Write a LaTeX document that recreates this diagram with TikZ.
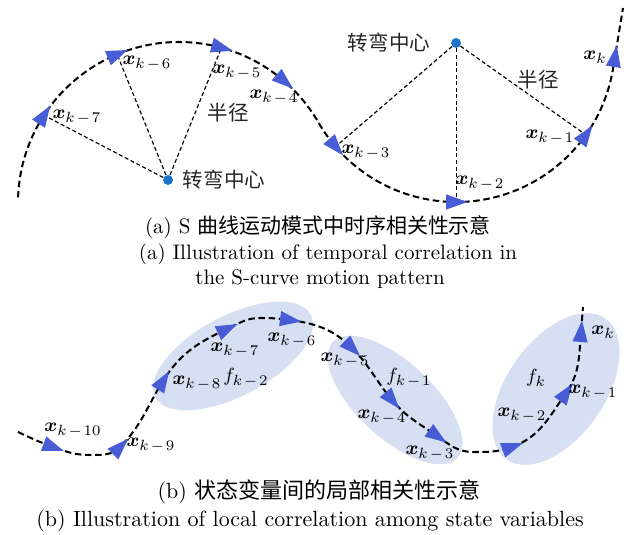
\documentclass[tikz,border=0pt]{standalone}
\usepackage{fontspec}
\usepackage{amsmath,amssymb}
\usepackage{bm}
\newfontfamily\cjk{Noto Sans CJK SC}
\usetikzlibrary{calc}
\definecolor{tipblue}{RGB}{72,92,214}
\definecolor{dotblue}{RGB}{30,115,200}
\definecolor{zoneblue}{RGB}{214,224,242}
\newcommand{\xk}[1]{\bm{x}_{k\mkern2mu-\mkern2mu#1}}
\tikzset{
  traj/.style={line width=0.95pt, dash pattern=on 3.1pt off 1.7pt},
  radline/.style={line width=0.55pt, dash pattern=on 1.9pt off 1.2pt},
  centre/.style={circle, fill=dotblue, inner sep=0pt, minimum size=4.7pt},
  lab/.style={font=\fontsize{9.5}{11}\selectfont, inner sep=0pt},
  cnlab/.style={font=\cjk\fontsize{9.7}{11}\selectfont, text=black!85, inner sep=0pt},
  captext/.style={font=\fontsize{9.9}{12}\selectfont, inner sep=0pt, anchor=base},
  bigcaptext/.style={font=\fontsize{10.4}{12}\selectfont, inner sep=0pt, anchor=base},
  zone/.style={fill=zoneblue},
  pics/tip/.style={code={\fill[tipblue] (5.4pt,0) -- (-4.7pt,3.6pt) -- (-4.7pt,-3.6pt) -- cycle;}},
}

\begin{document}
\begin{tikzpicture}[x=0.0166cm, y=0.0166cm]
    \useasboundingbox (0,0) rectangle (628,-535);

    % (a) turning centres
    \coordinate (c1) at (179,-203);
    \coordinate (c2) at (456.1,-43);
    \node[centre] (o1) at (168,-180) {};
    \node[centre] (o2) at (c2) {};
    \node[cnlab] (t1) at (224,-180) {转弯中心};
    \node[cnlab] (t2) at (389,-43) {转弯中心};
    \node[cnlab] (r1) at (228,-113) {半径};
    \node[cnlab] (r2) at (538,-80) {半径};

    % (a) states on the S curve
    \coordinate (a7) at ($(c1)+(147:161)$);
    \coordinate (a6) at ($(c1)+(112.6:161)$);
    \coordinate (a5) at ($(c1)+(74.7:161)$);
    \coordinate (a4) at ($(c1)+(49.2:161)$);
    \coordinate (a3) at ($(c2)+(220.7:159)$);
    \coordinate (a2) at ($(c2)+(270:159)$);
    \coordinate (a1) at ($(c2)+(324.7:159)$);
    \coordinate (a0) at (614.9,-57);
    \coordinate (aend) at (623,-8);

    % radii
    \draw[radline] (o1) -- (a7);
    \draw[radline] (o1) -- (a6);
    \draw[radline] (o1) -- (a5);
    \draw[radline] (o2) -- (a3);
    \draw[radline] (o2) -- (a2);
    \draw[radline] (o2) -- (a1);

    % S curve: two tangent turns
    \draw[traj] ($(c1)+(178:161)$) arc[start angle=178, end angle=30, radius=161]
        arc[start angle=210, end angle=350, radius=159] -- (aend);

    \pic[rotate=57] at (a7) {tip};
    \pic[rotate=22.6] at (a6) {tip};
    \pic[rotate=-15.3] at (a5) {tip};
    \pic[rotate=-40.8] at (a4) {tip};
    \pic[rotate=-49.3] at (a3) {tip};
    \pic[rotate=0] at (a2) {tip};
    \pic[rotate=54.7] at (a1) {tip};
    \pic[rotate=80.7] at (a0) {tip};

    \node[lab] (la7) at (77,-117) {$\xk{7}$};
    \node[lab] (la6) at (147,-63) {$\xk{6}$};
    \node[lab] (la5) at (237,-72) {$\xk{5}$};
    \node[lab] (la4) at (274,-97) {$\xk{4}$};
    \node[lab] (la3) at (366,-152) {$\xk{3}$};
    \node[lab] (la2) at (480,-183) {$\xk{2}$};
    \node[lab] (la1) at (550,-137) {$\xk{1}$};
    \node[lab] (la0) at (595,-57) {$\bm{x}_{k}$};

    \node[captext] (ca1) at (318,-234) {(a) S {\cjk 曲线运动模式中时序相关性示意}};
    \node[captext] (ca2) at (328,-260) {(a) Illustration of temporal correlation in};
    \node[captext] (ca3) at (320,-285) {the S-curve motion pattern};

    % (b) local regions
    \fill[zone, rotate around={28:(233,-356)}] (233,-356) ellipse[x radius=88, y radius=40];
    \fill[zone, rotate around={-43:(395,-400)}] (395,-400) ellipse[x radius=85, y radius=38];
    \fill[zone, rotate around={55:(556,-389)}] (556,-389) ellipse[x radius=86, y radius=49];

    % (b) states
    \coordinate (s) at (18,-432);
    \coordinate (b10) at (53,-447);
    \coordinate (m1) at (90,-455);
    \coordinate (b9) at (120,-447);
    \coordinate (b8) at (163,-381);
    \coordinate (b7) at (227,-329);
    \coordinate (m2) at (260,-318);
    \coordinate (b6) at (290,-320);
    \coordinate (b5) at (352,-348);
    \coordinate (b4) at (392,-400);
    \coordinate (b3) at (437,-436);
    \coordinate (m3) at (473,-452);
    \coordinate (b2) at (512,-447);
    \coordinate (b1) at (566,-393);
    \coordinate (b0) at (581,-332);
    \coordinate (e) at (583,-307);

    \draw[traj] (s) to[out=-25,in=160] (b10) to[out=-20,in=180] (m1)
        to[out=0,in=225] (b9) to[out=45,in=238] (b8) to[out=58,in=205] (b7)
        to[out=25,in=180] (m2) to[out=0,in=172] (b6) to[out=-8,in=135] (b5)
        to[out=-45,in=130] (b4) to[out=-50,in=145] (b3) to[out=-35,in=180] (m3)
        to[out=0,in=200] (b2) to[out=20,in=235] (b1) to[out=55,in=265] (b0)
        to[out=85,in=265] (e);

    \pic[rotate=-20] at (b10) {tip};
    \pic[rotate=45] at (b9) {tip};
    \pic[rotate=58] at (b8) {tip};
    \pic[rotate=25] at (b7) {tip};
    \pic[rotate=-8] at (b6) {tip};
    \pic[rotate=-45] at (b5) {tip};
    \pic[rotate=-50] at (b4) {tip};
    \pic[rotate=-35] at (b3) {tip};
    \pic[rotate=20] at (b2) {tip};
    \pic[rotate=55] at (b1) {tip};
    \pic[rotate=85] at (b0) {tip};

    \node[lab] (lb10) at (73,-430) {$\xk{10}$};
    \node[lab] (lb9) at (151,-445) {$\xk{9}$};
    \node[lab] (lb8) at (197,-383) {$\xk{8}$};
    \node[lab] (lb7) at (235,-350) {$\xk{7}$};
    \node[lab] (lb6) at (292,-340) {$\xk{6}$};
    \node[lab] (lb5) at (345,-360) {$\xk{5}$};
    \node[lab] (lb4) at (382,-417) {$\xk{4}$};
    \node[lab] (lb3) at (430,-453) {$\xk{3}$};
    \node[lab] (lb2) at (522,-415) {$\xk{2}$};
    \node[lab] (lb1) at (593,-392) {$\xk{1}$};
    \node[lab] (lb0) at (603,-332) {$\bm{x}_{k}$};
    \node[lab] (f2) at (246,-378) {$f_{k\mkern2mu-\mkern2mu2}$};
    \node[lab] (f1) at (409,-378) {$f_{k\mkern2mu-\mkern2mu1}$};
    \node[lab] (f0) at (536,-378) {$f_{k}$};

    \node[bigcaptext] (cb1) at (319,-499) {(b) {\cjk 状态变量间的局部相关性示意}};
    \node[bigcaptext] (cb2) at (310,-527) {(b) Illustration of local correlation among state variables};
\end{tikzpicture}
\end{document}
